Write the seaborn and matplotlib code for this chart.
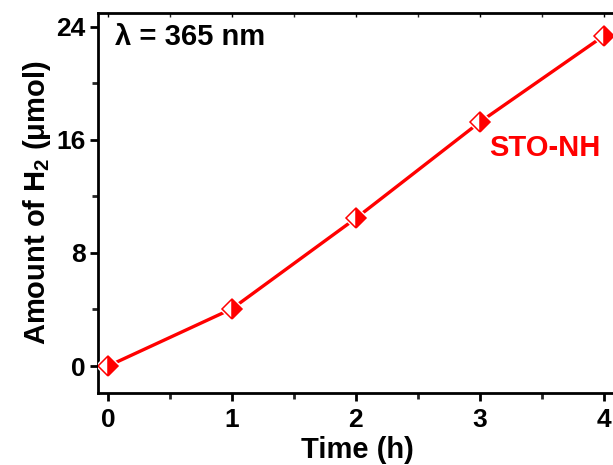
import matplotlib
matplotlib.use("Agg")
import matplotlib.pyplot as plt
import seaborn as sns
import pandas as pd
from matplotlib.ticker import MultipleLocator

time_h = [0, 1, 2, 3, 4]
h2_umol = [0.0, 4.05, 10.45, 17.25, 23.35]
x_ticks = [0, 1, 2, 3, 4]
y_ticks = [0, 8, 16, 24]

sns.set_style("ticks")
plt.rcParams['font.family'] = ['Liberation Sans', 'DejaVu Sans']
plt.rcParams['font.weight'] = 'bold'
plt.rcParams['axes.labelcolor'] = 'black'
plt.rcParams['text.color'] = 'black'
plt.rcParams['mathtext.fontset'] = 'custom'
plt.rcParams['mathtext.rm'] = 'Liberation Sans:bold'
plt.rcParams['mathtext.bf'] = 'Liberation Sans:bold'

df = pd.DataFrame({"Time": time_h, "H2": h2_umol})

fig = plt.figure(figsize=(6.13, 4.65), dpi=100)
ax = fig.add_axes([0.160, 0.155, 0.845, 0.818])

red = '#ff0000'
sns.lineplot(data=df, x="Time", y="H2", ax=ax, color=red, linewidth=2.4, zorder=2)
sns.lineplot(data=df, x="Time", y="H2", ax=ax, color='white', linestyle='', marker='D',
             markersize=13, markeredgewidth=0, zorder=3)
sns.lineplot(data=df, x="Time", y="H2", ax=ax, color=red, linestyle='', marker='D',
             markersize=10, fillstyle='right', markerfacecolor=red,
             markerfacecoloralt='white', markeredgecolor=red, markeredgewidth=1.1, zorder=4)

ax.set_xlim(-0.08, 4.1)
ax.set_ylim(-1.9, 25.0)
ax.set_xticks(x_ticks)
ax.set_yticks(y_ticks)
ax.xaxis.set_minor_locator(MultipleLocator(0.5))
ax.yaxis.set_minor_locator(MultipleLocator(4))

for s in ax.spines.values():
    s.set_linewidth(2.0)
    s.set_color('black')

ax.tick_params(axis='both', which='major', direction='out', length=6, width=2,
               labelsize=19, pad=3, colors='black')
ax.tick_params(axis='x', which='major', pad=5)
ax.tick_params(axis='both', which='minor', direction='out', length=4, width=2)
ax.tick_params(axis='x', which='both', top=True, labeltop=False)
for lbl in ax.get_xticklabels() + ax.get_yticklabels():
    lbl.set_fontweight('bold')

# top ticks: small, pointing into the plot
for t in ax.xaxis.get_major_ticks() + ax.xaxis.get_minor_ticks():
    t.tick2line.set_marker(3)
    t.tick2line.set_markersize(3)
    t.tick2line.set_markeredgewidth(1)

ax.set_xlabel("Time (h)", fontsize=21, fontweight='bold', labelpad=3, color='black')
ax.set_ylabel(r"Amount of H$_2$ ($\mathbf{\mu}$mol)", fontsize=21, fontweight='bold',
              labelpad=2, color='black')

ax.text(0.033, 0.935, "λ = 365 nm", transform=ax.transAxes, fontsize=21,
        fontweight='bold', color='black', ha='left', va='center')
ax.text(0.755, 0.645, "STO-NH", transform=ax.transAxes, fontsize=21,
        fontweight='bold', color=red, ha='left', va='center')

fig.savefig("out.png", dpi=100)
